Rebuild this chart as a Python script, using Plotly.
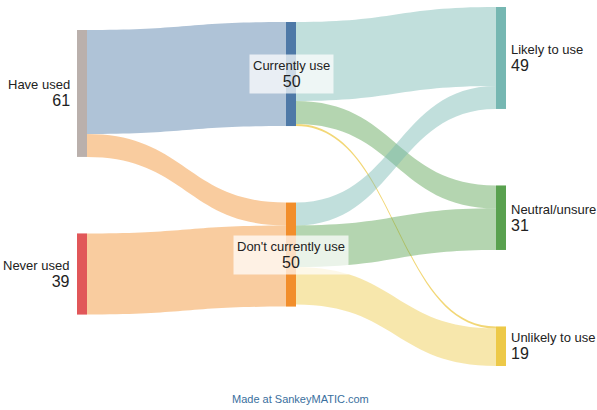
import plotly.graph_objects as go

# Nodes and their totals
node_names = ["Have used", "Never used", "Currently use", "Don't currently use",
              "Likely to use", "Neutral/unsure", "Unlikely to use"]
node_columns = [0, 0, 1, 1, 2, 2, 2]
node_colors = ["#bab0ac", "#e15759", "#4e79a7", "#f28e2b",
               "#76b7b2", "#59a14f", "#edc948"]

# Flows between the stages
link_source = [0, 0, 1, 2, 2, 2, 3, 3, 3]
link_target = [2, 3, 3, 4, 5, 6, 4, 5, 6]
link_values = [50, 11, 39, 38, 11, 1, 11, 20, 18]

W, H = 597, 410
THICK = 10
PAD = 102                   # node padding used by plotly for its vertical scale
GAP = 76.5                  # visual gap between stacked nodes in a column (px)
COL_X = [82, 291, 501]      # column centres (px)
COL_TOP = [30, 22, 7]       # top of the first node in each column (px)

# node totals = max(inflow, outflow), as the sankey trace computes them
n = len(node_names)
inflow = [0] * n
outflow = [0] * n
for s, t, v in zip(link_source, link_target, link_values):
    outflow[s] += v
    inflow[t] += v
node_totals = [max(a, b) for a, b in zip(inflow, outflow)]

# same px-per-unit scale that the trace derives from the padding
cols = sorted(set(node_columns))
scale = min((H - (sum(1 for c in node_columns if c == col) - 1) * PAD) /
            sum(node_totals[i] for i in range(n) if node_columns[i] == col)
            for col in cols)

node_cx, node_cy = [], []
col_cursor = {c: COL_TOP[c] for c in cols}
for i in range(n):
    c = node_columns[i]
    h = node_totals[i] * scale
    node_cx.append(COL_X[c])
    node_cy.append(col_cursor[c] + h / 2)
    col_cursor[c] += h + GAP


def with_alpha(hex_color, a):
    r, g, b = (int(hex_color[k:k + 2], 16) for k in (1, 3, 5))
    return f"rgba({r},{g},{b},{a})"


link_colors = [with_alpha(node_colors[t], 0.45) for t in link_target]
link_colors[link_values.index(min(link_values))] = with_alpha("#edc948", 0.75)

fig = go.Figure(go.Sankey(
    arrangement="fixed",
    domain=dict(x=[0, 1], y=[0, 1]),
    node=dict(
        label=node_names,
        color=node_colors,
        thickness=THICK,
        pad=PAD,
        line=dict(width=0),
        x=[x / W for x in node_cx],
        y=[y / H for y in node_cy],
        hovertemplate="%{label}: %{value}<extra></extra>",
    ),
    link=dict(
        source=link_source,
        target=link_target,
        value=link_values,
        color=link_colors,
        hovertemplate="%{source.label} → %{target.label}: %{value}<extra></extra>",
    ),
    textfont=dict(color="rgba(0,0,0,0)", size=1),
))

FONT = "Liberation Sans, Arial, sans-serif"
annotations = []
for i in range(n):
    c = node_columns[i]
    text = (f"{node_names[i]}<br><span style='font-size:16px'>{node_totals[i]}</span>")
    base = dict(
        y=1 - node_cy[i] / H, yref="paper", xref="paper",
        x=node_cx[i] / W, yanchor="middle", showarrow=False,
        font=dict(family=FONT, size=13, color="#222222"),
    )
    if c == 0:
        annotations.append(dict(base, text=text, xanchor="right", align="right",
                                xshift=-(THICK / 2 + 5)))
    elif c == 2:
        annotations.append(dict(base, text=text, xanchor="left", align="left",
                                xshift=THICK / 2 + 3))
    else:
        annotations.append(dict(base, text=text, xanchor="center", align="center",
                                bgcolor="rgba(255,255,255,0.72)", borderpad=3))

annotations.append(dict(
    text="Made at SankeyMATIC.com", x=0.503, y=1 - 399 / H,
    xref="paper", yref="paper", showarrow=False,
    xanchor="center", yanchor="middle",
    font=dict(family=FONT, size=11, color="#3a6f9e"),
))

fig.update_layout(
    width=W, height=H,
    margin=dict(l=0, r=0, t=0, b=0),
    paper_bgcolor="white",
    annotations=annotations,
)

fig.write_html("out.html")
